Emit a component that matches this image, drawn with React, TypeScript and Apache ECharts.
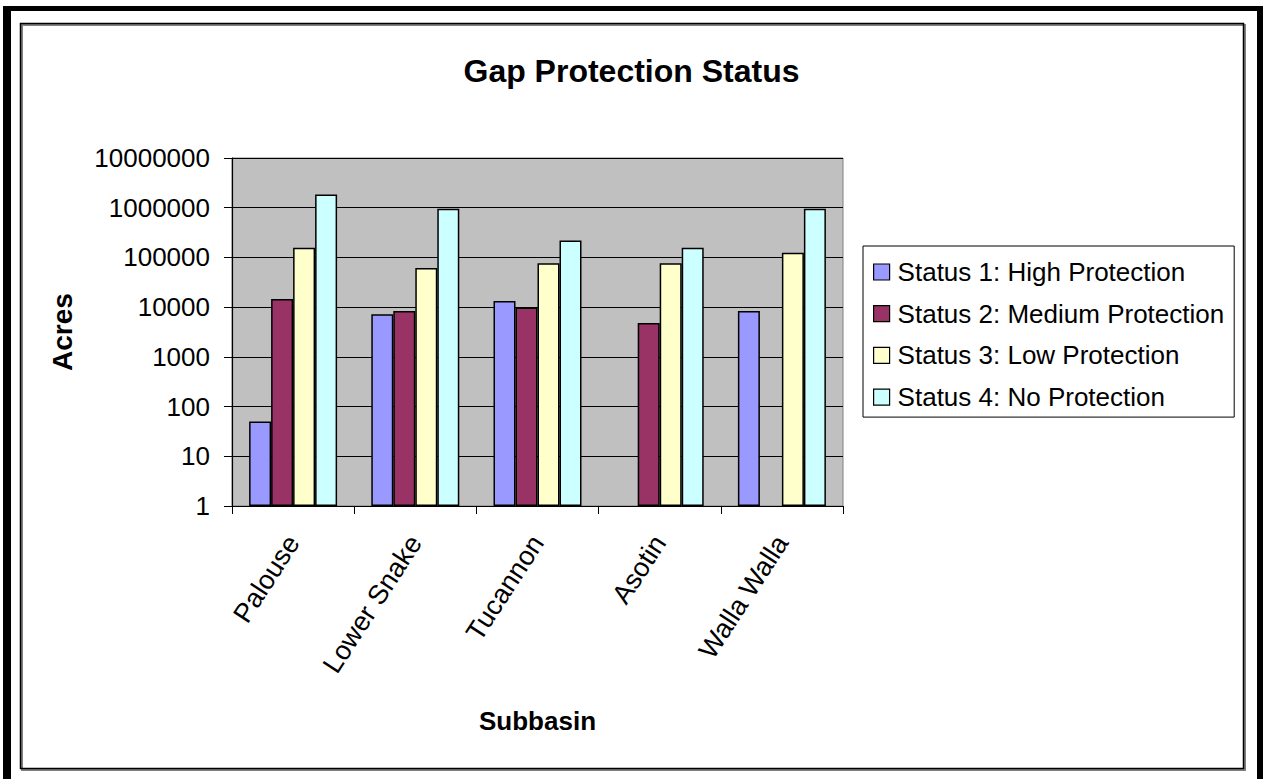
import React, { useEffect, useRef } from "react";
import * as echarts from "echarts";

const categories = ["Palouse", "Lower Snake", "Tucannon", "Asotin", "Walla Walla"];
const seriesNames = [
  "Status 1: High Protection",
  "Status 2: Medium Protection",
  "Status 3: Low Protection",
  "Status 4: No Protection",
];
const status1 = [50, 7200, 13300, null, 8400];
const status2 = [14600, 8400, 9800, 4800, null];
const status3 = [156000, 61000, 76000, 76000, 124000];
const status4 = [1850000, 950000, 218000, 156000, 950000];
const colors = ["#9999FF", "#993366", "#FFFFCC", "#CCFFFF"];

const FONT = "'Liberation Sans', Arial, Helvetica, sans-serif";

export default function App() {
  const ref = useRef<HTMLDivElement>(null);
  useEffect(() => {
    if (!ref.current) return;
    const chart = echarts.init(ref.current, null, { renderer: "svg" });
    const allData = [status1, status2, status3, status4];
    chart.setOption({
      animation: false,
      backgroundColor: "#FFFFFF",
      textStyle: { fontFamily: FONT },
      title: {
        text: "Gap Protection Status",
        left: "center",
        top: 55,
        padding: 0,
        textStyle: { fontFamily: FONT, fontSize: 32, fontWeight: "bold", color: "#000" },
      },
      graphic: [
        { type: "rect", shape: { x: 3, y: 6, width: 1260, height: 5 }, style: { fill: "#000" }, silent: true },
        { type: "rect", shape: { x: 3, y: 6, width: 8, height: 773 }, style: { fill: "#000" }, silent: true },
        { type: "rect", shape: { x: 1257, y: 6, width: 6, height: 773 }, style: { fill: "#000" }, silent: true },
        { type: "rect", shape: { x: 22, y: 25, width: 1223, height: 745 }, style: { fill: "none", stroke: "#808080", lineWidth: 2 }, silent: true, z: -1 },
        { type: "rect", shape: { x: 20.5, y: 23.5, width: 1223, height: 745 }, style: { fill: "none", stroke: "#000", lineWidth: 1.5 }, silent: true },
      ],
      legend: {
        orient: "vertical",
        left: 863,
        top: 246,
        padding: [13, 10, 7, 10],
        itemGap: 15.7,
        itemWidth: 16,
        itemHeight: 16,
        backgroundColor: "#FFFFFF",
        borderColor: "#000",
        borderWidth: 1,
        borderRadius: 0,
        icon: "rect",
        itemStyle: { borderColor: "#000", borderWidth: 1.2 },
        textStyle: { fontFamily: FONT, fontSize: 26, color: "#000", padding: [0, 0, 0, 3] },
        data: seriesNames,
      },
      grid: {
        left: 232,
        top: 158,
        width: 611,
        height: 348,
        show: true,
        backgroundColor: "#C0C0C0",
        borderColor: "#808080",
        borderWidth: 1,
      },
      xAxis: {
        type: "category",
        data: categories,
        name: "Subbasin",
        nameLocation: "middle",
        nameGap: 202,
        nameTextStyle: { fontFamily: FONT, fontSize: 26, fontWeight: "bold", color: "#000" },
        axisLine: { lineStyle: { color: "#000", width: 1.2 } },
        axisTick: { show: true, length: 8, lineStyle: { color: "#000" } },
        axisLabel: { rotate: 57, margin: 32, fontSize: 27, color: "#000", fontFamily: FONT },
        splitLine: { show: false },
      },
      yAxis: {
        type: "log",
        logBase: 10,
        min: 1,
        max: 10000000,
        splitNumber: 7,
        name: "Acres",
        nameLocation: "middle",
        nameGap: 156,
        nameRotate: 90,
        nameTextStyle: { fontFamily: FONT, fontSize: 28, fontWeight: "bold", color: "#000" },
        axisLine: { show: true, lineStyle: { color: "#000", width: 1.2 } },
        axisTick: { show: true, length: 8, lineStyle: { color: "#000" } },
        axisLabel: {
          margin: 22,
          fontSize: 26,
          color: "#000",
          fontFamily: FONT,
          formatter: (v: number) => String(Math.round(v)),
        },
        splitLine: { show: true, lineStyle: { color: "#000", width: 1 } },
      },
      series: seriesNames.map((name, i) => ({
        name,
        type: "bar",
        data: allData[i].map((v) => (v == null ? "-" : v)),
        barWidth: 22,
        barGap: "0%",
        itemStyle: { color: colors[i], borderColor: "#000", borderWidth: 1.5 },
      })),
    });
    return () => chart.dispose();
  }, []);
  return (
    <div
      ref={ref}
      style={{ position: "absolute", left: 0, top: 0, width: 1263, height: 779 }}
    />
  );
}
